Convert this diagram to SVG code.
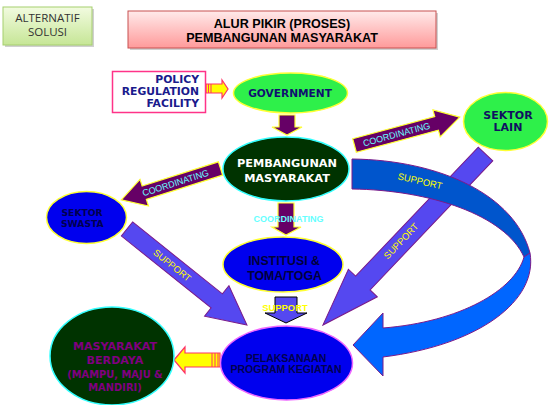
<svg xmlns="http://www.w3.org/2000/svg" width="549" height="405" viewBox="0 0 549 405">
<defs>
<linearGradient id="gAlt" x1="0" y1="0" x2="0" y2="1"><stop offset="0" stop-color="#f2fbe0"/><stop offset="1" stop-color="#c6e696"/></linearGradient>
<linearGradient id="gTitle" x1="0" y1="0" x2="0" y2="1"><stop offset="0" stop-color="#ffeaea"/><stop offset="1" stop-color="#ff9a9a"/></linearGradient>
<style>
.vb{font-family:"DejaVu Sans","Liberation Sans",sans-serif;font-weight:bold;text-anchor:middle}
.ab{font-family:"Liberation Sans",Arial,sans-serif;font-weight:bold;text-anchor:middle}
.ar{font-family:"Liberation Sans",Arial,sans-serif;text-anchor:middle}
.cal{font-family:"Open Sans","Liberation Sans",sans-serif;text-anchor:middle}
.purp{fill:#660066;stroke:#ffff33;stroke-width:1.2}
.peri{fill:#5548f0;stroke:#7a1a8a;stroke-width:1}
.yarr{fill:#ffff00;stroke:#ff3366;stroke-width:1.2}
.coord{fill:#66ffff;font-size:9px}
.sup{fill:#ffff00;font-size:9.4px}
.green{fill:#2ef04a;stroke:#ffff33;stroke-width:1.5}
.blue{fill:#0000ee;stroke:#ffff33;stroke-width:1.5}
.dark{fill:#003300;stroke:#33ffff;stroke-width:1.5}
</style>
</defs>
<rect width="549" height="405" fill="#ffffff"/>

<g id="alternatif">
<rect x="5" y="9" width="89" height="38" fill="#d0d0d0"/>
<rect x="3" y="7" width="89" height="38" fill="url(#gAlt)" stroke="#a6cf6e" stroke-width="1"/>
<text class="cal" x="47.5" y="22" font-size="11.5" fill="#333">ALTERNATIF</text>
<text class="cal" x="47.5" y="36" font-size="11.5" fill="#333">SOLUSI</text>
</g>

<g id="title">
<rect x="130" y="13" width="308" height="37" fill="#d0d0d0"/>
<rect x="128" y="11" width="308" height="37" fill="url(#gTitle)" stroke="#c85050" stroke-width="1"/>
<text class="ab" x="282" y="28" font-size="12.6" fill="#000">ALUR PIKIR (PROSES)</text>
<text class="ab" x="282" y="41.5" font-size="12.6" fill="#000">PEMBANGUNAN MASYARAKAT</text>
</g>

<g id="connectors">
<!-- policy -> government -->
<polygon class="yarr" points="206,84 222,84 222,80 228,89 222,98 222,93 206,93"/>
<line x1="208.5" y1="84" x2="208.5" y2="93" stroke="#ff3366" stroke-width="1"/>
<line x1="211" y1="84" x2="211" y2="93" stroke="#ff3366" stroke-width="1"/>
<!-- government -> pembangunan -->
<polygon class="purp" points="279,115 295,115 295,127 302,127 287,135 272,127 279,127"/>
<!-- pembangunan -> institusi -->
<polygon class="purp" points="278,203 294,203 294,227 301,227 286,235 272,227 278,227"/>
<text class="ab coord" x="288.5" y="222">COORDINATING</text>
<!-- institusi -> pelaksanaan -->
<polygon points="275,297 297,297 297,313 307,313 286,323 265,313 275,313" fill="#5548f0" stroke="#000" stroke-width="1"/>
<text class="ab sup" x="285" y="311">SUPPORT</text>
<!-- coordinating -> sektor lain -->
<g transform="translate(354.5,145.5) rotate(-15.1)">
<polygon class="purp" points="0,-7 85,-7 85,-14 109,0 85,14 85,7 0,7"/>
<text class="ar coord" x="43.5" y="3.3">COORDINATING</text>
</g>
<!-- coordinating -> sektor swasta -->
<polygon class="purp" transform="translate(220.5,168.5) rotate(162.4)" points="0,-7 80,-7 80,-14 104,0 80,14 80,7 0,7"/>
<text class="ar coord" transform="translate(175.5,182.7) rotate(-17.6)" y="3.3">COORDINATING</text>
<!-- sektor swasta -> pelaksanaan -->
<g transform="translate(127,229) rotate(38.7)">
<polygon class="peri" points="0,-9 115,-9 115,-19.5 153.7,0 115,19.5 115,9 0,9"/>
<text class="ar sup" x="58" y="3.3">SUPPORT</text>
</g>
<!-- sektor lain -> pelaksanaan -->
<polygon class="peri" transform="translate(485.5,154) rotate(133.55)" points="0,-10 178,-10 178,-20 236,0 178,20 178,10 0,10"/>
<text class="ar sup" transform="translate(401,241) rotate(-46.45)" y="3.3">SUPPORT</text>
<!-- big curved support arrow -->
<path d="M352,159 C440,160 515,195 530,253 L524,257 C505,215 430,190 352,189 Z" fill="#0055cc" stroke="#7a1a8a" stroke-width="1"/>
<path d="M530,253 C538,300 480,345 383,357 L383,376 L353,345 L383,313 L383,328 C460,322 515,290 524,257 Z" fill="#0066ff" stroke="#7a1a8a" stroke-width="1"/>
<text class="ar sup" transform="translate(420,181) rotate(13)" y="3.3">SUPPORT</text>
<!-- pelaksanaan -> masyarakat berdaya -->
<polygon class="yarr" points="174,360 185,347 185,353 220,353 220,367 185,367 185,373"/>
<line x1="212" y1="353" x2="212" y2="367" stroke="#ff3366" stroke-width="1"/>
<line x1="215" y1="353" x2="215" y2="367" stroke="#ff3366" stroke-width="1"/>
<line x1="218" y1="353" x2="218" y2="367" stroke="#ff3366" stroke-width="1"/>
</g>

<g id="policy">
<rect x="112.5" y="71.5" width="93" height="41" fill="#ffffff" stroke="#ff3388" stroke-width="1.5"/>
<text class="vb" x="199" y="83" font-size="10.8" fill="#1a1a8c" text-anchor="end" style="text-anchor:end">POLICY</text>
<text class="vb" x="199" y="95" font-size="10.8" fill="#1a1a8c" style="text-anchor:end">REGULATION</text>
<text class="vb" x="199" y="107" font-size="10.8" fill="#1a1a8c" style="text-anchor:end">FACILITY</text>
</g>

<g id="government">
<ellipse class="green" cx="290.5" cy="93" rx="57" ry="20"/>
<text class="vb" x="290" y="97" font-size="10.6" fill="#101070">GOVERNMENT</text>
</g>

<g id="pembangunan">
<ellipse class="dark" cx="286" cy="169" rx="63" ry="32"/>
<text class="vb" x="287" y="167" font-size="11.3" fill="#ffffff">PEMBANGUNAN</text>
<text class="vb" x="287" y="182" font-size="11.3" fill="#ffffff">MASYARAKAT</text>
</g>

<g id="sektor-lain">
<ellipse class="green" cx="505.5" cy="121.5" rx="42" ry="29"/>
<text class="vb" x="508" y="119" font-size="11" fill="#101060">SEKTOR</text>
<text class="vb" x="508" y="131" font-size="11" fill="#101060">LAIN</text>
</g>

<g id="sektor-swasta">
<ellipse class="blue" cx="86.5" cy="217.5" rx="40" ry="26"/>
<text class="vb" x="61.5" y="216" font-size="9.2" fill="#000050" style="text-anchor:start">SEKTOR</text>
<text class="vb" x="61" y="226.5" font-size="9.2" fill="#000050" style="text-anchor:start">SWASTA</text>
</g>

<g id="institusi">
<ellipse class="blue" cx="283" cy="264.5" rx="60" ry="27.5"/>
<text class="ab" x="284" y="265" font-size="12.3" fill="#00003a">INSTITUSI &amp;</text>
<text class="ab" x="284.5" y="279.5" font-size="12.3" fill="#00003a">TOMA/TOGA</text>
</g>

<g id="pelaksanaan">
<ellipse cx="286.5" cy="363" rx="66" ry="37" fill="#0000ee" stroke="#ee66ff" stroke-width="1.5"/>
<text class="ab" x="286" y="361.5" font-size="10.5" fill="#000050">PELAKSANAAN</text>
<text class="ab" x="286" y="372.5" font-size="10.5" fill="#000050">PROGRAM KEGIATAN</text>
</g>

<g id="masyarakat-berdaya">
<ellipse class="dark" cx="112" cy="356" rx="62" ry="49"/>
<text class="vb" x="115" y="349.5" font-size="11.1" fill="#800080">MASYARAKAT</text>
<text class="vb" x="115" y="364" font-size="11.1" fill="#800080">BERDAYA</text>
<text class="vb" x="115" y="377.5" font-size="9.9" fill="#800080">(MAMPU, MAJU &amp;</text>
<text class="vb" x="115" y="391" font-size="9.9" fill="#800080">MANDIRI)</text>
</g>
</svg>
